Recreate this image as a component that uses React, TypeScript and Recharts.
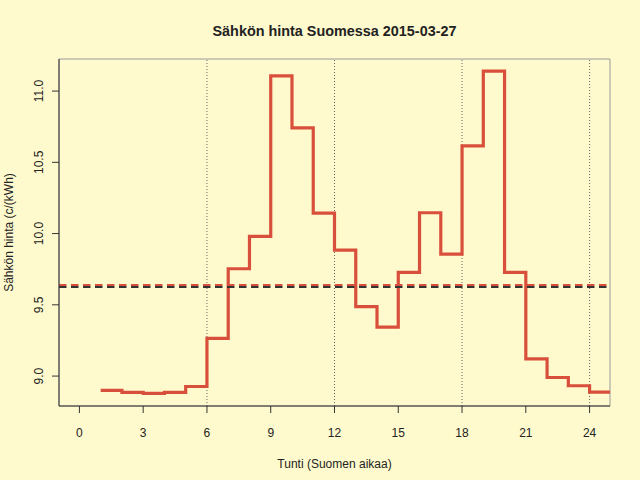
import React from "react";
import {
  LineChart,
  Line,
  XAxis,
  YAxis,
  ReferenceLine,
  ReferenceArea,
  Label,
} from "recharts";

const hours = [1, 2, 3, 4, 5, 6, 7, 8, 9, 10, 11, 12, 13, 14, 15, 16, 17, 18, 19, 20, 21, 22, 23, 24];
const prices = [
  8.899, 8.885, 8.878, 8.885, 8.927, 9.264, 9.753, 9.98, 11.107, 10.742, 10.144, 9.884,
  9.488, 9.344, 9.727, 10.146, 9.856, 10.616, 11.14, 9.727, 9.121, 8.99, 8.932, 8.888,
];
const xTicks = [0, 3, 6, 9, 12, 15, 18, 21, 24];
const yTicks = [9.0, 9.5, 10.0, 10.5, 11.0];
const vLines = [6, 12, 18, 24];
const otherLevel = 9.625;

const data = hours.map((h, i) => ({ hour: h, price: prices[i] }));
data.push({ hour: hours[hours.length - 1] + 1, price: prices[prices.length - 1] });
const mean = prices.reduce((a, b) => a + b, 0) / prices.length;

const FONT = '"Liberation Sans", Arial, Helvetica, sans-serif';
const X_DOMAIN: [number, number] = [-0.96, 24.96];
const Y_DOMAIN: [number, number] = [8.79, 11.225];

export default function App() {
  return (
    <div
      style={{
        position: "absolute",
        left: 0,
        top: 0,
        width: 640,
        height: 480,
        background: "#FFFACD",
      }}
    >
      <LineChart
        width={640}
        height={480}
        data={data}
        margin={{ top: 59, right: 30, bottom: 0, left: 0 }}
      >
        <text
          x={334.5}
          y={35.5}
          textAnchor="middle"
          fontFamily={FONT}
          fontWeight="bold"
          fontSize={14.4}
          fill="#222"
        >
          Sähkön hinta Suomessa 2015-03-27
        </text>
        <ReferenceArea
          x1={X_DOMAIN[0]}
          x2={X_DOMAIN[1]}
          y1={Y_DOMAIN[0]}
          y2={Y_DOMAIN[1]}
          fill="none"
          stroke="#9a9a9a"
          strokeWidth={1}
          ifOverflow="visible"
        />
        {vLines.map((v) => (
          <ReferenceLine
            key={v}
            x={v}
            stroke="#666"
            strokeWidth={1}
            strokeDasharray="1 2"
          />
        ))}
        <XAxis
          dataKey="hour"
          type="number"
          domain={X_DOMAIN}
          allowDataOverflow
          ticks={xTicks}
          interval={0}
          height={74}
          tickSize={7}
          axisLine={{ stroke: "#333" }}
          tickLine={{ stroke: "#333" }}
          tick={(props: any) => (
            <text
              x={props.x}
              y={436.5}
              textAnchor="middle"
              fontFamily={FONT}
              fontSize={12}
              fill="#222"
            >
              {props.payload.value}
            </text>
          )}
        >
          <Label
            content={(props: any) => {
              const vb = props.viewBox || { x: 59, y: 406, width: 551 };
              return (
                <text
                  x={vb.x + vb.width / 2}
                  y={vb.y + 62}
                  textAnchor="middle"
                  fontFamily={FONT}
                  fontSize={12}
                  fill="#222"
                >
                  Tunti (Suomen aikaa)
                </text>
              );
            }}
          />
        </XAxis>
        <YAxis
          type="number"
          domain={Y_DOMAIN}
          allowDataOverflow
          ticks={yTicks}
          interval={0}
          width={59}
          tickSize={7}
          axisLine={{ stroke: "#333" }}
          tickLine={{ stroke: "#333" }}
          tick={(props: any) => (
            <text
              x={43.5}
              y={props.y}
              transform={`rotate(-90, 43.5, ${props.y})`}
              textAnchor="middle"
              fontFamily={FONT}
              fontSize={12}
              fill="#222"
            >
              {Number(props.payload.value).toFixed(1)}
            </text>
          )}
        >
          <Label
            content={(props: any) => {
              const vb = props.viewBox || { x: 0, y: 59, height: 347 };
              const cy = vb.y + vb.height / 2;
              return (
                <text
                  x={12.5}
                  y={cy}
                  transform={`rotate(-90, 12.5, ${cy})`}
                  textAnchor="middle"
                  fontFamily={FONT}
                  fontSize={12}
                  fill="#222"
                >
                  Sähkön hinta (c/(kWh)
                </text>
              );
            }}
          />
        </YAxis>
        <Line
          type="stepAfter"
          dataKey="price"
          stroke="#D8503B"
          strokeWidth={3.2}
          dot={false}
          activeDot={false}
          isAnimationActive={false}
        />
        <ReferenceLine
          y={mean}
          stroke="#D8503B"
          strokeWidth={2}
          strokeDasharray="7.5 4.5"
        />
        <ReferenceLine
          y={otherLevel}
          stroke="#333"
          strokeWidth={2}
          strokeDasharray="7.5 4.5"
        />
      </LineChart>
    </div>
  );
}
